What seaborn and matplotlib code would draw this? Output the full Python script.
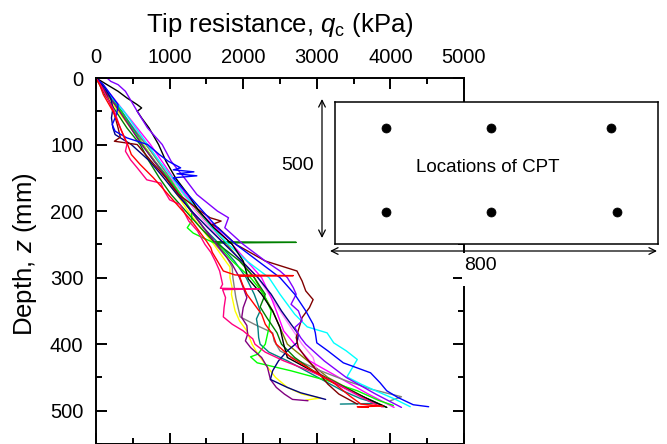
import numpy as np
import pandas as pd
import matplotlib
matplotlib.use("Agg")
import matplotlib.pyplot as plt
from matplotlib.ticker import MultipleLocator
from matplotlib.patches import Rectangle
import seaborn as sns

# ---------------- data ----------------
depth_pink = [0,10,25,50,75,100,110,123,135,153,158,170,183,190,200,215,230,250,262,275,290,300,310,316,317,318,330,345,359,370,380,392,400,412,425,440,455,470,485,493]
qc_pink = [0,60,130,250,330,420,400,470,560,690,880,930,1000,1140,1190,1260,1380,1480,1560,1620,1680,1700,1720,1690,2230,1720,1760,1740,1730,1850,2000,2130,2160,2300,2550,2900,3200,3450,3700,3850]

depth_red = [0,10,25,50,75,100,115,130,150,175,200,215,230,245,255,262,275,290,296,297,298,310,325,340,355,370,385,400,420,440,460,478,490,493,494,495]
qc_red = [0,50,100,230,330,430,480,600,780,980,1180,1300,1400,1500,1560,1580,1650,1730,1890,2680,1950,1990,2050,2150,2250,2300,2400,2450,2650,2950,3250,3450,3600,3900,3550,3700]

depth_yellow = [0,25,50,100,150,200,250,275,284,300,315,325,340,350,365,380,400,415,430,450,465,475,481,484]
qc_yellow = [0,140,300,640,950,1250,1600,1760,1820,1820,1850,1840,1870,1890,1950,2050,2120,2200,2300,2440,2600,2800,3050,2850]

depth_purple = [0,25,50,100,150,200,250,280,300,315,330,345,360,372,385,395,405,420,435,453,465,475,483,485]
qc_purple = [0,160,320,620,960,1290,1640,1850,1950,2000,2050,2000,1980,2050,2060,2030,2100,2250,2330,2370,2450,2560,2670,2880]

depth_gray = [0,25,50,100,150,200,250,270,284,300,315,330,345,359,370,383,395,410,425,440,455,468,479,485]
qc_gray = [0,160,330,680,1000,1300,1620,1780,1850,1860,1880,1900,1930,1960,2150,2400,2420,2500,2750,3050,3400,3750,4150,4000]

depth_teal = [0,25,50,75,100,125,150,175,200,225,250,275,300,325,340,350,362,375,390,400,412,425,440,455,470,482,489,490]
qc_teal = [0,180,350,500,640,800,980,1130,1290,1460,1680,1880,2040,2150,2200,2230,2180,2200,2210,2230,2350,2600,2850,3100,3350,3600,3820,3320]

depth_navy = [0,15,30,45,60,75,85,100,125,150,175,200,225,250,275,300,325,350,370,385,398,410,425,440,453,465,473,483]
qc_navy = [0,120,200,230,210,230,260,480,730,920,1100,1300,1520,1750,1980,2200,2380,2520,2650,2750,2730,2600,2480,2400,2370,2600,2780,3120]

depth_green = [0,25,50,75,100,125,150,175,200,225,240,246,247,248,260,275,300,325,344,360,383,400,420,440,460,480,495]
qc_green = [0,120,270,420,600,720,860,1020,1220,1420,1550,1600,2720,1640,1780,1950,2150,2300,2230,2320,2460,2520,2700,2950,3300,3650,3950]

depth_lime = [0,25,50,75,100,125,150,175,200,215,225,233,240,250,275,300,325,350,375,400,415,419,428,440,455,470,485,492]
qc_lime = [0,150,340,480,630,790,980,1150,1300,1300,1240,1320,1450,1650,1850,2100,2280,2380,2350,2300,2200,2100,2190,2650,3150,3550,3850,4040]

depth_blue = [0,10,25,40,55,70,80,90,100,115,125,135,138,141,144,147,150,160,175,200,225,250,275,300,325,350,370,383,398,410,428,443,458,470,480,491,494]
qc_blue = [0,100,200,300,280,220,260,420,700,860,980,1150,1050,1330,1100,1370,1050,1130,1250,1450,1650,1900,2200,2500,2700,2850,2950,2980,3000,3150,3360,3730,3860,3950,4100,4310,4520]

depth_cyan = [0,25,50,75,100,125,150,175,200,225,250,275,300,325,340,355,374,383,398,410,423,436,449,460,470,482,494]
qc_cyan = [0,180,380,540,700,860,1040,1200,1400,1580,1800,2050,2350,2500,2600,2700,2870,3140,3230,3400,3550,3480,3410,3600,3800,4050,4270]

depth_violet = [0,5,10,20,35,50,75,100,125,150,175,200,210,225,250,275,290,300,315,325,340,350,365,375,390,400,425,450,475,495]
qc_violet = [150,200,300,400,480,560,700,900,1020,1200,1370,1650,1800,1750,2000,2300,2500,2600,2680,2720,2650,2750,2800,2700,2780,2850,3100,3400,3800,4150]

depth_wine = [0,25,50,75,89,95,100,125,150,175,200,210,215,220,225,250,275,290,305,320,333,345,360,375,390,405,420,440,460,475,490]
qc_wine = [0,140,240,300,330,250,560,750,950,1120,1420,1550,1700,1580,1660,1900,2300,2730,2800,2850,2950,2900,2800,2760,2720,2750,2850,3000,3150,3300,3550]

depth_black = [0,10,20,30,40,45,50,60,75,100,125,150,175,200,225,250,275,302,325,350,375,400,420,450,475,495]
qc_black = [0,150,300,420,560,620,560,620,720,850,950,1080,1250,1400,1600,1850,2000,2070,2250,2400,2500,2550,2600,3100,3550,3950]

depth_magenta = [0,25,50,100,150,200,250,300,330,350,380,400,425,450,475,495]
qc_magenta = [0,200,380,740,1050,1400,1850,2250,2380,2450,2550,2700,2900,3300,3700,4050]

depth_olive = [0,25,50,100,150,200,250,300,350,400,450,495]
qc_olive = [0,170,320,680,1020,1380,1780,2150,2400,2600,3150,3900]

depth_lightmag = [0,25,50,100,150,200,250,300,350,375,400,420,440,460,480,495]
qc_lightmag = [0,160,340,700,1020,1350,1750,2200,2500,2650,2800,2950,3000,3250,3600,3900]

# CPT locations in the plan-view inset (mm)
cpt_x = [126, 386, 684, 126, 386, 698]
cpt_y = [408, 408, 408, 113, 113, 113]

x_ticks = [0, 1000, 2000, 3000, 4000, 5000]
y_ticks = [0, 100, 200, 300, 400, 500]

series = [
    ("olive", depth_olive, qc_olive, "#808000"),
    ("lightmag", depth_lightmag, qc_lightmag, "#FF80FF"),
    ("magenta", depth_magenta, qc_magenta, "#FF00FF"),
    ("gray", depth_gray, qc_gray, "#808080"),
    ("teal", depth_teal, qc_teal, "#008080"),
    ("yellow", depth_yellow, qc_yellow, "#FFFF00"),
    ("lime", depth_lime, qc_lime, "#00FF00"),
    ("green", depth_green, qc_green, "#008000"),
    ("cyan", depth_cyan, qc_cyan, "#00FFFF"),
    ("purple", depth_purple, qc_purple, "#800080"),
    ("navy", depth_navy, qc_navy, "#000080"),
    ("wine", depth_wine, qc_wine, "#800000"),
    ("black", depth_black, qc_black, "#000000"),
    ("violet", depth_violet, qc_violet, "#8000FF"),
    ("blue", depth_blue, qc_blue, "#0000FF"),
    ("pink", depth_pink, qc_pink, "#FF0080"),
    ("red", depth_red, qc_red, "#FF0000"),
]

frames = []
palette = {}
for name, d, q, c in series:
    frames.append(pd.DataFrame({"cpt": name, "depth": d, "qc": q}))
    palette[name] = c
df = pd.concat(frames, ignore_index=True)

# ---------------- style ----------------
sns.set_style("ticks")
plt.rcParams["font.family"] = ["Liberation Sans", "DejaVu Sans"]
plt.rcParams["mathtext.fontset"] = "custom"
plt.rcParams["mathtext.rm"] = "Liberation Sans"
plt.rcParams["mathtext.it"] = "Liberation Sans:italic"
for key in ["text.color", "axes.labelcolor", "xtick.color", "ytick.color",
            "xtick.labelcolor", "ytick.labelcolor", "axes.edgecolor"]:
    plt.rcParams[key] = "black"

W, H = 667, 444
fig = plt.figure(figsize=(W / 100, H / 100), dpi=100)
ax = fig.add_axes([96 / W, 0.0, 368 / W, 366 / H])

sns.lineplot(data=df, x="qc", y="depth", hue="cpt", palette=palette,
             sort=False, estimator=None, legend=False, linewidth=1.0, ax=ax)

ax.set_xlim(0, 5000)
ax.set_ylim(550, 0)
ax.set_xticks(x_ticks)
ax.set_yticks(y_ticks)
ax.xaxis.set_minor_locator(MultipleLocator(500))
ax.yaxis.set_minor_locator(MultipleLocator(50))
ax.tick_params(axis="both", which="both", direction="in", top=True, bottom=True,
               left=True, right=True, labeltop=True, labelbottom=False,
               labelleft=True, labelright=False, width=1.4, color="black",
               labelcolor="black")
ax.tick_params(axis="both", which="major", length=7.7, labelsize=14.5)
ax.tick_params(axis="both", which="minor", length=4.2)
ax.tick_params(axis="x", which="major", pad=8)
ax.tick_params(axis="y", which="major", pad=9)
for sp in ax.spines.values():
    sp.set_linewidth(1.4)
    sp.set_color("black")

ax.xaxis.set_label_position("top")
ax.set_xlabel(r"Tip resistance, $q_\mathrm{c}$ (kPa)", fontsize=18.5, color="black")
ax.xaxis.label.set_verticalalignment("baseline")
ax.xaxis.set_label_coords(0.5, (H - 32) / 366)
ax.set_ylabel(r"Depth, $z$ (mm)", fontsize=18.5, color="black")
ax.yaxis.label.set_verticalalignment("center")
ax.yaxis.set_label_coords((25 - 96) / 368, (H - 254) / 366)

# ---------------- plan-view inset ----------------
ins = fig.add_axes([335 / W, 1 - 244 / H, 323 / W, 142 / H])
ins.set_facecolor("white")
sns.scatterplot(x=cpt_x, y=cpt_y, color="black", s=42, edgecolor="black", ax=ins)
ins.set_xlim(0, 800)
ins.set_ylim(0, 500)
ins.set_xticks([])
ins.set_yticks([])
for sp in ins.spines.values():
    sp.set_linewidth(1.1)
    sp.set_color("black")
ins.text(379, 271, "Locations of CPT", ha="center", va="center", fontsize=13.5,
         color="black")

# dimension arrows
ax.annotate("", xy=(322 / W, 1 - 99 / H), xytext=(322 / W, 1 - 238 / H),
            xycoords="figure fraction", textcoords="figure fraction",
            arrowprops=dict(arrowstyle="<->", lw=0.9, color="black",
                            mutation_scale=12, shrinkA=0, shrinkB=0))
ax.annotate("", xy=(330 / W, 1 - 251 / H), xytext=(657 / W, 1 - 251 / H),
            xycoords="figure fraction", textcoords="figure fraction",
            arrowprops=dict(arrowstyle="<->", lw=0.9, color="black",
                            mutation_scale=12, shrinkA=0, shrinkB=0))
fig.text(298 / W, 1 - 165 / H, "500", ha="center", va="center", fontsize=14,
         color="black")
fig.patches.append(Rectangle((462 / W, 1 - 286 / H), 40 / W, 33 / H,
                             transform=fig.transFigure, facecolor="white",
                             edgecolor="none", zorder=2))
fig.text(480 / W, 1 - 265 / H, "800", ha="center", va="center", fontsize=14,
         zorder=3, color="black")

fig.savefig("out.png", dpi=100)
